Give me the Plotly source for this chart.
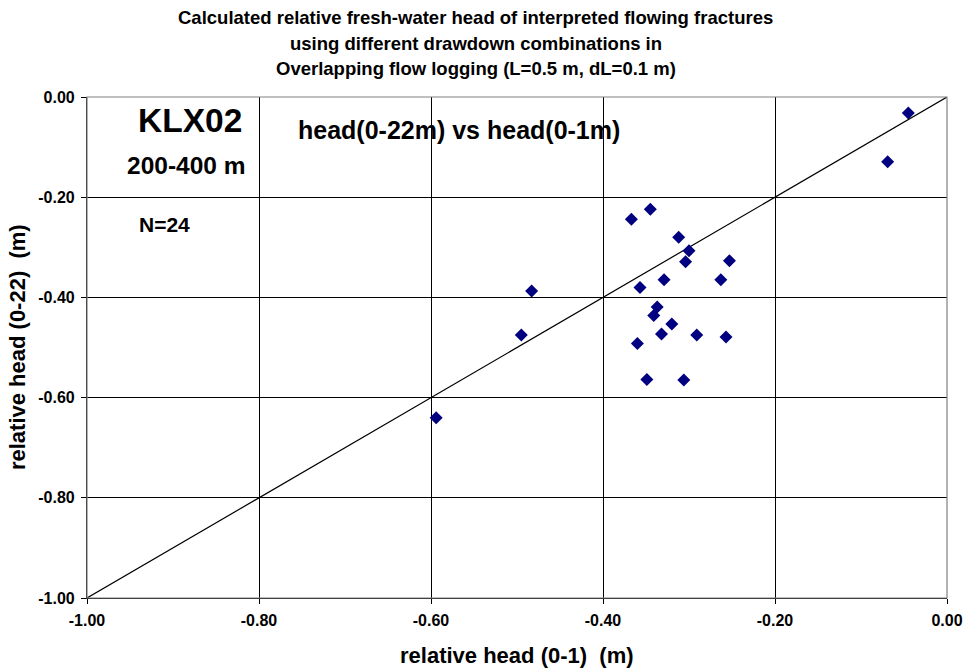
import plotly.graph_objects as go

head_0_1 = [-0.367, -0.345, -0.312, -0.300, -0.304, -0.253, -0.329, -0.263, -0.357,
            -0.337, -0.341, -0.320, -0.332, -0.291, -0.257, -0.360, -0.349, -0.306,
            -0.483, -0.495, -0.594, -0.045, -0.069]
head_0_22 = [-0.244, -0.224, -0.280, -0.307, -0.329, -0.327, -0.365, -0.365, -0.380,
             -0.419, -0.436, -0.453, -0.473, -0.475, -0.479, -0.492, -0.564, -0.565,
             -0.387, -0.475, -0.640, -0.032, -0.129]
line_x = [-1.0, 0.0]
line_y = [-1.0, 0.0]
tick_vals = [-1.0, -0.8, -0.6, -0.4, -0.2, 0.0]
tick_text = ["-1.00", "-0.80", "-0.60", "-0.40", "-0.20", "0.00"]
title_lines = ["Calculated relative fresh-water head of interpreted flowing fractures",
               "using different drawdown combinations in",
               "Overlapping flow logging (L=0.5 m, dL=0.1 m)"]

FONT = "Liberation Sans, Arial, sans-serif"
W, H = 975, 669
L, R, T, B = 87, 21, 97, 71


def bold(size):
    return dict(family=FONT, size=size, color="black", weight="bold")


def b(t):
    return "<b>" + t + "</b>"


fig = go.Figure()
fig.add_trace(go.Scatter(x=line_x, y=line_y, mode="lines",
                         line=dict(color="black", width=1.2), hoverinfo="skip",
                         showlegend=False))
fig.add_trace(go.Scatter(x=head_0_1, y=head_0_22, mode="markers",
                         marker=dict(symbol="diamond", size=10, color="#000080"),
                         showlegend=False))

axis_common = dict(range=[-1, 0], tickvals=tick_vals, ticktext=[b(t) for t in tick_text],
                   showgrid=True, gridcolor="black", gridwidth=1,
                   showline=True, linecolor="black", linewidth=1.2,
                   ticks="outside", ticklen=5, tickcolor="black",
                   zeroline=False, tickfont=bold(16))

annotations = []
for txt, yc in zip(title_lines, [17, 43, 68]):
    annotations.append(dict(text=b(txt), xref="paper", yref="paper",
                            x=(479 - L) / (W - L - R), y=1 + (T - yc) / (H - T - B),
                            xanchor="center", yanchor="middle", showarrow=False,
                            font=bold(18.5)))
annotations.append(dict(text=b("relative head (0-1)&nbsp;&nbsp;(m)"), xref="paper", yref="paper",
                        x=(521 - L) / (W - L - R), y=-(655 - (H - B)) / (H - T - B),
                        xanchor="center", yanchor="middle", showarrow=False,
                        font=bold(22)))
annotations.append(dict(text=b("relative head (0-22)&nbsp;&nbsp;(m)"), xref="paper", yref="paper",
                        x=-(L - 17) / (W - L - R), y=0.5,
                        xanchor="center", yanchor="middle", showarrow=False,
                        textangle=-90, font=bold(22)))
annotations += [
    dict(text=b("KLX02"), x=-0.880, y=-0.046, xref="x", yref="y", showarrow=False,
         font=bold(33.5)),
    dict(text=b("200-400 m"), x=-0.884, y=-0.137, xref="x", yref="y", showarrow=False,
         font=bold(24.5)),
    dict(text=b("N=24"), x=-0.910, y=-0.254, xref="x", yref="y", showarrow=False,
         font=bold(21)),
    dict(text=b("head(0-22m) vs head(0-1m)"), x=-0.567, y=-0.066, xref="x", yref="y",
         showarrow=False, font=bold(25)),
]

fig.update_layout(
    width=W, height=H,
    paper_bgcolor="white", plot_bgcolor="white",
    margin=dict(l=L, r=R, t=T, b=B),
    xaxis=dict(**axis_common, ticklabelstandoff=3),
    yaxis=dict(**axis_common, ticklabelstandoff=3),
    shapes=[dict(type="rect", xref="paper", yref="paper", x0=0, y0=0, x1=1, y1=1,
                 line=dict(color="#808080", width=1.2), layer="above")],
    annotations=annotations,
)

fig.write_html("out.html")
